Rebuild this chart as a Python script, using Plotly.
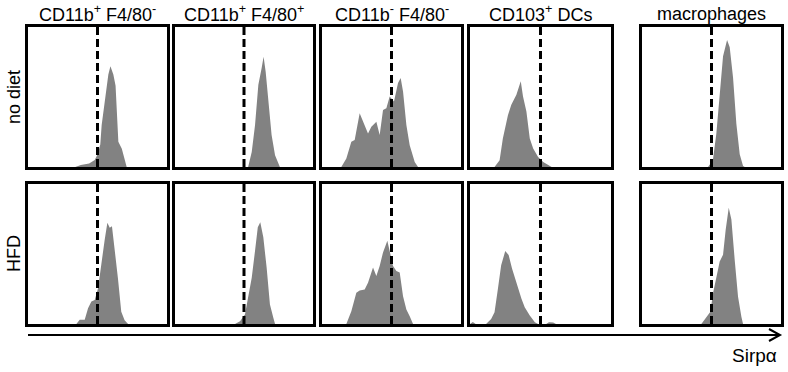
import plotly.graph_objects as go

W, H = 788, 372

# ---------------- data ----------------
col_titles = ["CD11b<sup>+</sup> F4/80<sup>-</sup>", "CD11b<sup>+</sup> F4/80<sup>+</sup>",
              "CD11b<sup>-</sup> F4/80<sup>-</sup>", "CD103<sup>+</sup> DCs", "macrophages"]
row_titles = ["no diet", "HFD"]
axis_label = "Sirpα"
gate = [50, 50, 50, 50, 50]

# no diet row
nd1_x = [34, 38, 44, 48, 50, 52, 53, 55.4, 57.8, 59.3, 61.4, 63, 64, 65, 67.5, 70, 71]
nd1_y = [0, 1.5, 2.5, 5, 9, 16, 30, 49, 66, 72, 66, 58, 40, 18, 13, 3.6, 0]
nd2_x = [53, 55.6, 58, 60.4, 62.8, 64.2, 65.7, 67.6, 70, 72.5, 74.9, 76]
nd2_y = [0, 10.8, 30, 58.8, 70.7, 78.7, 68, 49, 22.8, 8.4, 2.4, 0]
nd3_x = [13.9, 17.5, 21.1, 23.5, 27.1, 29.5, 33.1, 35.5, 39.1, 41.5, 43.9, 46.3, 48.7,
         51.8, 54.7, 56.6, 58.3, 60.7, 63.1, 66.7, 69.1]
nd3_y = [0, 6, 18, 19.2, 38.4, 32.4, 24, 28.8, 32.4, 22.8, 40.8, 42, 50.4,
         46.8, 60, 63.6, 54, 30, 15.6, 3.6, 0]
nd4_x = [17.4, 21, 23.3, 26.9, 29.3, 32.9, 36, 37.6, 40, 42.4, 44.8, 48.3, 51.9, 55.5, 57.9]
nd4_y = [0, 4.8, 20.4, 37, 44.4, 51.6, 61.2, 50.4, 39.6, 20.4, 13.2, 7.2, 3.6, 1.2, 0]
nd5_x = [47.5, 51, 53.5, 55.9, 58.3, 61.2, 63.1, 65.5, 67.9, 70.3, 72.7, 73.9]
nd5_y = [0, 4.8, 24, 52.8, 79.1, 90.7, 85.5, 64, 30.7, 9.1, 0.7, 0]

# HFD row
hf1_x = [34.8, 37.2, 40.8, 43.2, 45.6, 48, 50.4, 52.8, 55.2, 57.1, 58.8, 60.4, 62.4,
         64.7, 67.1, 69.5, 72]
hf1_y = [0, 3.1, 3.1, 11.2, 16, 17.2, 25.6, 44.7, 60.4, 72.3, 68.7, 69.9, 54.3,
         32.7, 8.7, 2.7, 0]
hf2_x = [43.5, 47.1, 50.7, 53.1, 55.6, 58, 60, 61.8, 64, 66.4, 68.8, 71.3, 72.5]
hf2_y = [0, 1.9, 6.7, 21.1, 33.1, 52.3, 69.1, 72.7, 61.9, 40.3, 14, 4.3, 0]
hf3_x = [17.5, 21.1, 24.7, 27.1, 30.7, 33.1, 36.7, 39.1, 41.5, 43.9, 47, 48.7, 51.1,
         53.5, 55.9, 58.3, 60.7, 63.1, 65.5]
hf3_y = [0, 9.1, 22.3, 24, 24.7, 29.5, 40.3, 34.3, 41.5, 51.1, 59.5, 52.3, 41.5,
         37.9, 36.7, 19.9, 10.3, 5.5, 0]
hf4_x = [0, 2, 4, 11.4, 15, 17.4, 19.8, 22.1, 25, 27.4, 29.8, 32.9, 36.5, 38.8, 42.4,
         46, 48.3, 54, 56, 59, 61]
hf4_y = [0, 1.5, 0, 0, 3.6, 8.4, 25.2, 42, 52.1, 49.2, 39.6, 28.8, 18, 12, 6,
         1.2, 0, 0, 1.2, 1, 0]
hf5_x = [42.7, 46.3, 49.2, 51.1, 53.5, 55.9, 58.3, 60.2, 62.4, 64.3, 66.7, 69.1, 71.5, 72.7]
hf5_y = [0, 5.1, 8.7, 21.9, 33.9, 44.7, 49.5, 67.4, 83, 74.6, 45.8, 19.4, 5.1, 0]

series = [
    [(nd1_x, nd1_y), (nd2_x, nd2_y), (nd3_x, nd3_y), (nd4_x, nd4_y), (nd5_x, nd5_y)],
    [(hf1_x, hf1_y), (hf2_x, hf2_y), (hf3_x, hf3_y), (hf4_x, hf4_y), (hf5_x, hf5_y)],
]

# ---------------- layout geometry (pixels) ----------------
col_px = [(28, 167), (175, 313), (322, 461), (470, 611), (642, 781)]
row_px = [(27, 167), (184, 324)]

def px_x(p):
    return p / W

def px_y(p):
    return 1 - p / H

FONT = "Arial, Liberation Sans, sans-serif"
fig = go.Figure()
layout = dict(width=W, height=H, margin=dict(l=0, r=0, t=0, b=0),
              paper_bgcolor="white", plot_bgcolor="white", showlegend=False)
shapes = []
annotations = []

k = 0
for r in range(2):
    for c in range(5):
        k += 1
        xa = "x" if k == 1 else f"x{k}"
        ya = "y" if k == 1 else f"y{k}"
        xs, ys = series[r][c]
        fig.add_trace(go.Scatter(x=xs, y=ys, xaxis=xa, yaxis=ya, mode="lines",
                                 fill="tozeroy", fillcolor="#828282",
                                 line=dict(width=0, color="#828282"),
                                 hoverinfo="skip"))
        ax_common = dict(showline=True, mirror=True, linewidth=3, linecolor="black",
                         showticklabels=False, ticks="", showgrid=False,
                         zeroline=False, fixedrange=True)
        layout["xaxis" if k == 1 else f"xaxis{k}"] = dict(
            ax_common, range=[0, 100],
            domain=[px_x(col_px[c][0]), px_x(col_px[c][1])],
            anchor=ya)
        layout["yaxis" if k == 1 else f"yaxis{k}"] = dict(
            ax_common, range=[0, 100],
            domain=[px_y(row_px[r][1]), px_y(row_px[r][0])],
            anchor=xa)
        shapes.append(dict(type="line", xref=xa, yref=f"{ya} domain",
                           x0=gate[c], x1=gate[c], y0=0, y1=1,
                           line=dict(color="black", width=3, dash="8px,4px")))

for c, t in enumerate(col_titles):
    annotations.append(dict(text=t, xref="paper", yref="paper",
                            x=px_x((col_px[c][0] + col_px[c][1]) / 2), y=px_y(14),
                            showarrow=False, xanchor="center", yanchor="middle",
                            font=dict(family=FONT, size=18, color="black")))
for r, t in enumerate(row_titles):
    annotations.append(dict(text=t, xref="paper", yref="paper",
                            x=px_x(14), y=px_y((row_px[r][0] + row_px[r][1]) / 2),
                            showarrow=False, textangle=-90,
                            xanchor="center", yanchor="middle",
                            font=dict(family=FONT, size=18, color="black")))
annotations.append(dict(text=axis_label, xref="paper", yref="paper",
                        x=px_x(779), y=px_y(355), showarrow=False,
                        xanchor="right", yanchor="middle",
                        font=dict(family=FONT, size=19, color="black")))

# arrow under the panels
shapes.append(dict(type="line", xref="paper", yref="paper",
                   x0=px_x(28), x1=px_x(779), y0=px_y(335), y1=px_y(335),
                   line=dict(color="black", width=2)))
shapes.append(dict(type="path", xref="paper", yref="paper",
                   path=f"M {px_x(769)},{px_y(329)} L {px_x(780)},{px_y(335)} L {px_x(769)},{px_y(341)}",
                   line=dict(color="black", width=2)))

layout["shapes"] = shapes
layout["annotations"] = annotations
fig.update_layout(**layout)
fig.write_html("out.html", config={"displayModeBar": False},
               post_script="document.body.style.margin='0px';document.body.style.overflow='hidden';")
